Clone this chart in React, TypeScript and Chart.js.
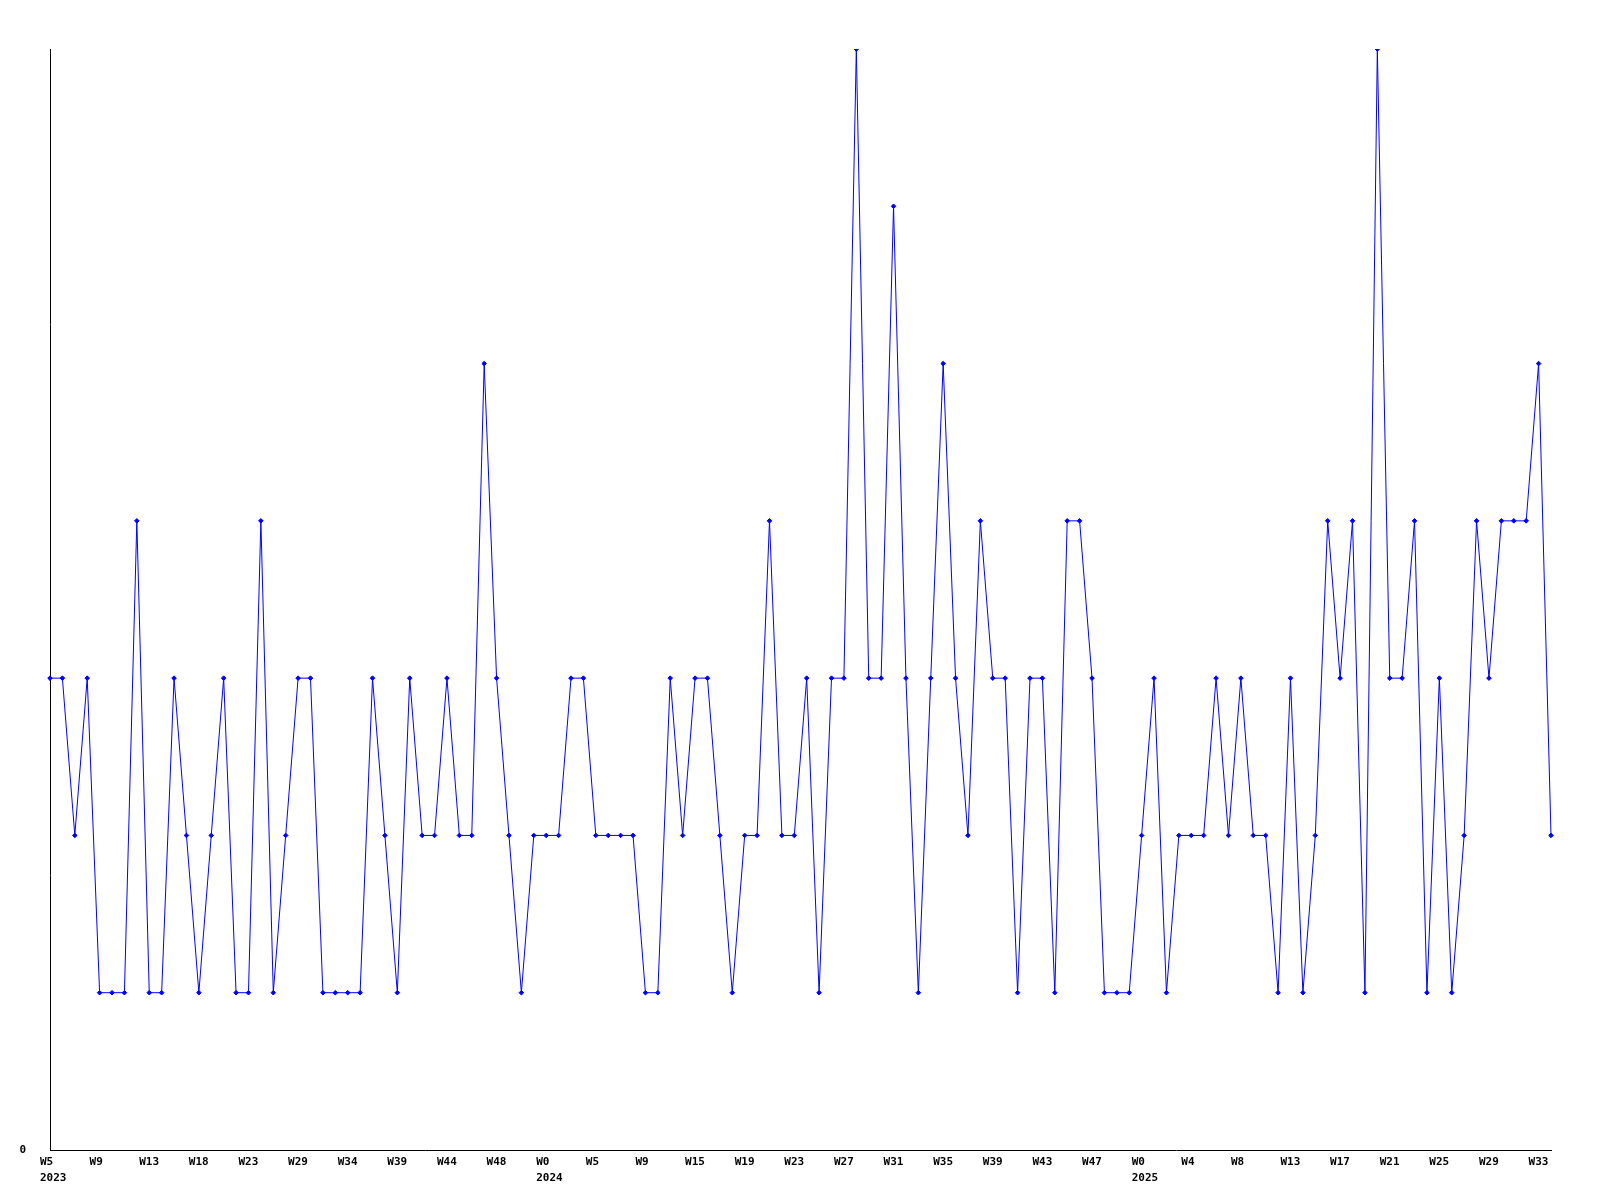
import { useEffect, useRef } from "react";
import { Chart, registerables } from "chart.js";

Chart.register(...registerables);

// Series values (one per period)
const values: number[] = [
  3, 3, 2, 3, 1, 1, 1, 4, 1, 1, 3, 2, 1, 2, 3, 1, 1, 4, 1, 2,
  3, 3, 1, 1, 1, 1, 3, 2, 1, 3, 2, 2, 3, 2, 2, 5, 3, 2, 1, 2,
  2, 2, 3, 3, 2, 2, 2, 2, 1, 1, 3, 2, 3, 3, 2, 1, 2, 2, 4, 2,
  2, 3, 1, 3, 3, 7, 3, 3, 6, 3, 1, 3, 5, 3, 2, 4, 3, 3, 1, 3,
  3, 1, 4, 4, 3, 1, 1, 1, 2, 3, 1, 2, 2, 2, 3, 2, 3, 2, 2, 1,
  3, 1, 2, 4, 3, 4, 1, 7, 3, 3, 4, 1, 3, 1, 2, 4, 3, 4, 4, 4,
  5, 2,
];

// Tick labels shown every 4th point
const weekTicks: string[] = [
  "W5", "W9", "W13", "W18", "W23", "W29", "W34", "W39", "W44", "W48",
  "W0", "W5", "W9", "W15", "W19", "W23", "W27", "W31", "W35", "W39",
  "W43", "W47", "W0", "W4", "W8", "W13", "W17", "W21", "W25", "W29", "W33",
];
const yearTicks: string[] = ["2023", "2024", "2025"];
const yearTickSlots: number[] = [0, 10, 22];
const tickEvery = 4;
const yMin = 0;
const yMax = 7;

export default function App() {
  const ref = useRef<HTMLCanvasElement>(null);

  useEffect(() => {
    if (!ref.current) return;
    const labels = values.map((_, i) => String(i));
    const tickText = (i: number): string | string[] | null => {
      if (i % tickEvery !== 0) return null;
      const k = i / tickEvery;
      const w = weekTicks[k];
      if (w === undefined) return null;
      const yi = yearTickSlots.indexOf(k);
      return yi >= 0 ? [w, yearTicks[yi]] : w;
    };
    const font = {
      family: "'DejaVu Sans Mono', monospace",
      size: 11,
      weight: "bold" as const,
      lineHeight: 16 / 11,
    };
    const chart = new Chart(ref.current, {
      type: "line",
      data: {
        labels,
        datasets: [
          {
            data: values,
            borderColor: "#0000ff",
            backgroundColor: "#0000ff",
            borderWidth: 1,
            pointStyle: "rectRot",
            pointRadius: 2.3,
            pointBorderWidth: 1,
            pointBorderColor: "#0000ff",
            pointBackgroundColor: "#0000ff",
            tension: 0,
            fill: false,
          },
        ],
      },
      options: {
        animation: false,
        responsive: false,
        layout: { padding: { top: 49, right: 49, left: 19, bottom: 10 } },
        plugins: {
          legend: { display: false },
          tooltip: { enabled: false },
        },
        scales: {
          x: {
            offset: false,
            grid: { display: false, drawTicks: false },
            border: { display: true, color: "#000000", width: 1 },
            afterFit: (s: any) => {
              s.paddingLeft = 0;
              s.paddingRight = 0;
            },
            ticks: {
              autoSkip: false,
              maxRotation: 0,
              minRotation: 0,
              align: "start",
              labelOffset: -10,
              padding: 4,
              color: "#000000",
              font,
              callback: (_v: any, i: number) => tickText(i),
            },
          },
          y: {
            min: yMin,
            max: yMax,
            grid: { display: false, drawTicks: false },
            border: { display: true, color: "#000000", width: 1 },
            afterFit: (s: any) => {
              s.width = 31;
              s.paddingTop = 0;
              s.paddingBottom = 0;
            },
            ticks: {
              stepSize: 1,
              padding: 24,
              color: "#000000",
              font,
              callback: (v: any) => (Number(v) === 0 ? "0" : null),
            },
          },
        },
      },
    });
    return () => chart.destroy();
  }, []);

  return (
    <canvas
      ref={ref}
      width={1600}
      height={1200}
      style={{ position: "fixed", left: 0, top: 0, width: 1600, height: 1200 }}
    />
  );
}
